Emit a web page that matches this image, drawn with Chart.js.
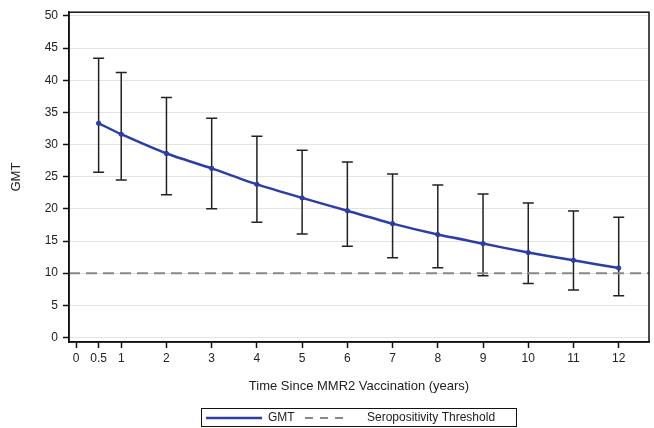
<!DOCTYPE html>
<html>
<head>
<meta charset="utf-8">
<script src="https://cdn.jsdelivr.net/npm/chart.js@4/dist/chart.umd.min.js"></script>
<style>
html,body{margin:0;padding:0;background:#fff;}
canvas{display:block;}
</style>
</head>
<body>
<canvas id="c" width="654" height="428"></canvas>
<script>
// ---- data ----
const years   = [0.5, 1, 2, 3, 4, 5, 6, 7, 8, 9, 10, 11, 12];
const gmt     = [33.3, 31.6, 28.6, 26.3, 23.8, 21.7, 19.7, 17.7, 16.0, 14.6, 13.2, 12.0, 10.8];
const upperCI = [43.4, 41.2, 37.3, 34.1, 31.3, 29.1, 27.3, 25.4, 23.7, 22.3, 20.9, 19.65, 18.7];
const lowerCI = [25.7, 24.5, 22.2, 20.0, 17.9, 16.1, 14.2, 12.4, 10.85, 9.6, 8.4, 7.4, 6.5];
const threshold = 10;
const xTicks = [0, 0.5, 1, 2, 3, 4, 5, 6, 7, 8, 9, 10, 11, 12];
const xTickLabels = ['0', '0.5', '1', '2', '3', '4', '5', '6', '7', '8', '9', '10', '11', '12'];
const yTicks = [0, 5, 10, 15, 20, 25, 30, 35, 40, 45, 50];
const xMin = -0.155, xMax = 12.67;
const yMin = -0.7, yMax = 50.57;

const FONT = "'Liberation Sans', Arial, sans-serif";

const errorBars = {
  id: 'errorBars',
  beforeDatasetsDraw(chart) {
    const ctx = chart.ctx, xs = chart.scales.x, ys = chart.scales.y;
    ctx.save();
    ctx.strokeStyle = '#222';
    ctx.lineWidth = 1.5;
    years.forEach((t, i) => {
      const x = xs.getPixelForValue(t);
      const yu = ys.getPixelForValue(upperCI[i]);
      const yl = ys.getPixelForValue(lowerCI[i]);
      ctx.beginPath();
      ctx.moveTo(x, yu); ctx.lineTo(x, yl);
      ctx.moveTo(x - 5.5, yu); ctx.lineTo(x + 5.5, yu);
      ctx.moveTo(x - 5.5, yl); ctx.lineTo(x + 5.5, yl);
      ctx.stroke();
    });
    ctx.restore();
  }
};

const frameAndLegend = {
  id: 'frameAndLegend',
  afterDraw(chart) {
    const ctx = chart.ctx, a = chart.chartArea;
    ctx.save();
    ctx.strokeStyle = '#111';
    ctx.lineWidth = 1.5;
    ctx.strokeRect(a.left, a.top, a.right - a.left, a.bottom - a.top);
    // legend
    ctx.lineWidth = 1;
    ctx.strokeStyle = '#111';
    ctx.strokeRect(201.5, 408.5, 315, 18);
    const ly = 418;
    ctx.strokeStyle = '#2b3ea8';
    ctx.lineWidth = 2.5;
    ctx.beginPath(); ctx.moveTo(206, ly); ctx.lineTo(262, ly); ctx.stroke();
    ctx.strokeStyle = '#888';
    ctx.lineWidth = 2;
    ctx.setLineDash([8, 7]);
    ctx.beginPath(); ctx.moveTo(305, ly); ctx.lineTo(344, ly); ctx.stroke();
    ctx.setLineDash([]);
    ctx.fillStyle = '#222';
    ctx.font = '12px ' + FONT;
    ctx.textBaseline = 'middle';
    ctx.textAlign = 'left';
    ctx.fillText('GMT', 268, ly);
    ctx.fillText('Seropositivity Threshold', 367, ly);
    ctx.restore();
  }
};

new Chart(document.getElementById('c'), {
  type: 'line',
  data: {
    datasets: [
      {
        label: 'GMT',
        data: years.map((t, i) => ({x: t, y: gmt[i]})),
        borderColor: '#2b3ea8',
        backgroundColor: '#2b3ea8',
        borderWidth: 2.5,
        pointRadius: 2.2,
        pointBackgroundColor: '#2b3ea8',
        pointBorderColor: '#2b3ea8',
        pointBorderWidth: 1,
        tension: 0.2,
        order: 1
      },
      {
        label: 'Seropositivity Threshold',
        data: [{x: xMin, y: threshold}, {x: xMax, y: threshold}],
        borderColor: '#888',
        borderWidth: 2,
        borderDash: [11, 6],
        pointRadius: 0,
        order: 2
      }
    ]
  },
  options: {
    responsive: false,
    animation: false,
    devicePixelRatio: 1,
    layout: {padding: {top: 12, right: 4, left: 0, bottom: 0}},
    plugins: {legend: {display: false}, tooltip: {enabled: false}},
    scales: {
      x: {
        type: 'linear',
        min: xMin, max: xMax,
        afterBuildTicks: s => { s.ticks = xTicks.map(v => ({value: v})); },
        afterFit: s => { s.height = 86; },
        grid: {drawOnChartArea: false, tickColor: '#111', tickLength: 6, tickWidth: 1.5},
        border: {color: '#111', width: 1.5},
        ticks: {color: '#222', font: {family: FONT, size: 12}, padding: 3, maxRotation: 0, autoSkip: false,
                callback: (v, i) => xTickLabels[i]},
        title: {display: true, text: 'Time Since MMR2 Vaccination (years)', color: '#222',
                font: {family: FONT, size: 13}, padding: {top: 0, bottom: 34}}
      },
      y: {
        type: 'linear',
        min: yMin, max: yMax,
        afterBuildTicks: s => { s.ticks = yTicks.map(v => ({value: v})); },
        afterFit: s => { s.width = 69; },
        grid: {color: '#e3e3e3', lineWidth: 1, tickColor: '#111', tickLength: 6, tickWidth: 1.5},
        border: {color: '#111', width: 1.5},
        ticks: {color: '#222', font: {family: FONT, size: 12}, padding: 5},
        title: {display: true, text: 'GMT', color: '#222',
                font: {family: FONT, size: 13}, padding: {top: 9, bottom: 0}}
      }
    }
  },
  plugins: [errorBars, frameAndLegend]
});
</script>
</body>
</html>
